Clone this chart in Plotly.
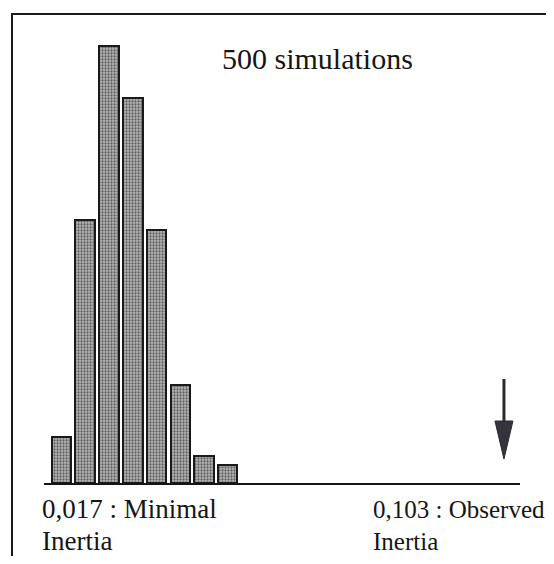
import plotly.graph_objects as go

# Histogram of between-class inertia over 500 simulations
bin_centers = [0.0203, 0.0247, 0.0292, 0.0336, 0.0380, 0.0425, 0.0469, 0.0513]
counts = [15, 86, 143, 126, 83, 32, 9, 6]
min_inertia = 0.017
observed_inertia = 0.103
title_text = "500 simulations"
min_label = ["0,017 : Minimal", "Inertia"]
obs_label = ["0,103 : Observed", "Inertia"]

# the page has an 8px body margin; size the figure so nothing overflows the window
OFF = 8
W, H = 554 - 2 * OFF, 564 - 2 * OFF
PL, PR, PT, PB = 44, 520, 25, 483          # plot area in reference pixels
L, R, T, B = PL - OFF, (W + OFF) - PR, PT - OFF, (H + OFF) - PB
pw, ph = PR - PL, PB - PT

def px_x(p):
    return (p - PL) / pw

def px_y(p):
    return (PB - p) / ph

FONT = "Liberation Serif, Times New Roman, serif"

fig = go.Figure()
fig.add_trace(go.Bar(
    x=bin_centers, y=counts, width=0.00365,
    marker=dict(
        color="#9c9c9c",
        line=dict(color="#1a1a1a", width=2),
        pattern=dict(shape=".", size=3, solidity=0.45, fgcolor="#606060",
                     bgcolor="#b8b8b8", fillmode="replace"),
    ),
    hoverinfo="skip",
))

frame = dict(color="#1a1a1a", width=2)
shapes = [
    # outer frame (top and left edges; the rest lies outside the picture)
    dict(type="line", xref="paper", yref="paper",
         x0=px_x(11), x1=px_x(600), y0=px_y(14), y1=px_y(14), line=frame),
    dict(type="line", xref="paper", yref="paper",
         x0=px_x(12), x1=px_x(12), y0=px_y(13), y1=px_y(620), line=frame),
    # arrow shaft
    dict(type="line", xref="x", yref="y", xsizemode="pixel", ysizemode="pixel",
         xanchor=observed_inertia, yanchor=0, x0=0, x1=0, y0=58, y1=104,
         line=dict(color="#2a2a2e", width=3)),
    # arrow head
    dict(type="path", xref="x", yref="y", xsizemode="pixel", ysizemode="pixel",
         xanchor=observed_inertia, yanchor=0,
         path="M -9 62 L 9 62 L 0 24 Z",
         fillcolor="#36333c", line=dict(color="#2a2a2e", width=1)),
]

def ann(text, x, y, size, xanchor="left"):
    return dict(text=text, xref="paper", yref="paper", x=x, y=y,
                xanchor=xanchor, yanchor="middle", showarrow=False,
                font=dict(family=FONT, size=size, color="#151515"), align="left")

annotations = [
    ann(title_text, px_x(317), px_y(59), 30, "center"),
    ann(min_label[0], px_x(40), px_y(509), 27),
    ann(min_label[1], px_x(40), px_y(541), 27),
    ann(obs_label[0], px_x(371), px_y(509), 25),
    ann(obs_label[1], px_x(371), px_y(541), 25),
]

fig.update_layout(
    width=W, height=H,
    margin=dict(l=L, r=R, t=T, b=B),
    paper_bgcolor="white", plot_bgcolor="white",
    showlegend=False,
    xaxis=dict(range=[min_inertia, 0.106], showgrid=False, zeroline=False,
               showticklabels=False, ticks="", showline=True,
               linecolor="#151515", linewidth=2),
    yaxis=dict(range=[0, 150], showgrid=False, zeroline=False,
               showticklabels=False, ticks="", showline=False),
    shapes=shapes,
    annotations=annotations,
    bargap=0,
)

fig.write_html("out.html")
